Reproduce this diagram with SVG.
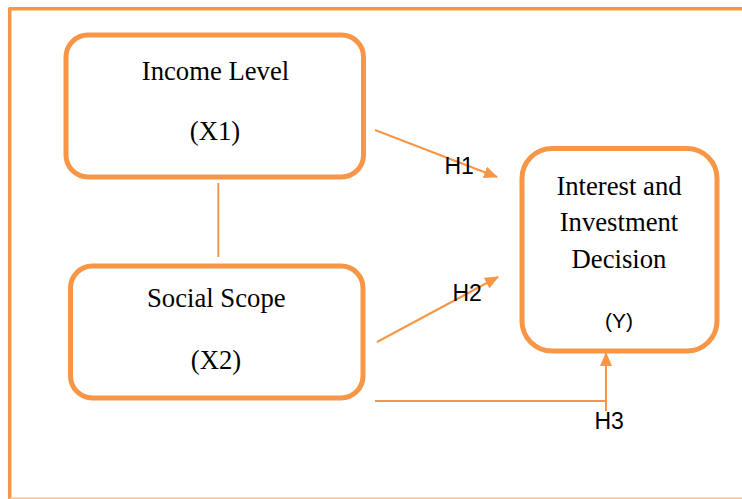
<svg xmlns="http://www.w3.org/2000/svg" width="742" height="499" viewBox="0 0 742 499">
  <style>
    .box { fill: #ffffff; stroke: #F79646; stroke-width: 5; }
    .serif { font-family: "Liberation Serif", "Times New Roman", serif; font-size: 26.7px; fill: #000; text-anchor: middle; }
    .sans { font-family: "Liberation Sans", Arial, sans-serif; font-size: 23px; fill: #000; }
    .conn { fill: none; stroke: #F79646; stroke-width: 2; }
  </style>
  <defs>
    <marker id="arrow" viewBox="0 0 14 12" refX="13" refY="6" markerWidth="14" markerHeight="12" markerUnits="userSpaceOnUse" orient="auto">
      <path d="M0,0 L14,6 L0,12 z" fill="#F79646"/>
    </marker>
    <filter id="blur" x="-5%" y="-200%" width="110%" height="500%">
      <feGaussianBlur stdDeviation="1.2"/>
    </filter>
  </defs>
  <rect width="742" height="499" fill="#ffffff"/>

  <g id="frame">
    <path d="M10,6.5 H742" stroke="#bbbbbb" stroke-width="2" filter="url(#blur)" fill="none"/>
    <path d="M9.7,499 V8.7 H742" fill="none" stroke="#F79646" stroke-width="3.5" stroke-linejoin="round"/>
    <path d="M9.7,498.3 H742" fill="none" stroke="#FAC090" stroke-width="1.5"/>
  </g>

  <g id="connectors">
    <path class="conn" d="M218.3,183 V257"/>
    <path class="conn" d="M375,130 L497,177" marker-end="url(#arrow)"/>
    <path class="conn" d="M377,342 L498,277" marker-end="url(#arrow)"/>
    <path class="conn" d="M375,401 H606"/>
    <path class="conn" d="M606,411 V353" marker-end="url(#arrow)"/>
  </g>

  <g id="node-x1">
    <rect class="box" x="66" y="35" width="297.5" height="142" rx="22" ry="22"/>
    <text class="serif" x="215.5" y="79.5">Income Level</text>
    <text class="serif" x="215" y="139.5">(X1)</text>
  </g>

  <g id="node-x2">
    <rect class="box" x="70.5" y="266" width="292.5" height="132" rx="22" ry="22"/>
    <text class="serif" x="216.3" y="307">Social Scope</text>
    <text class="serif" x="216" y="368.5">(X2)</text>
  </g>

  <g id="node-y">
    <rect class="box" x="522" y="148.5" width="195" height="202.5" rx="30" ry="30"/>
    <text class="serif" x="619" y="195">Interest and</text>
    <text class="serif" x="619" y="231">Investment</text>
    <text class="serif" x="619" y="268">Decision</text>
    <text class="sans" x="619" y="328" text-anchor="middle" style="font-size:21px">(Y)</text>
  </g>

  <g id="labels">
    <text class="sans" x="444.5" y="174">H1</text>
    <text class="sans" x="452.5" y="301">H2</text>
    <text class="sans" x="594.5" y="429">H3</text>
  </g>
</svg>
